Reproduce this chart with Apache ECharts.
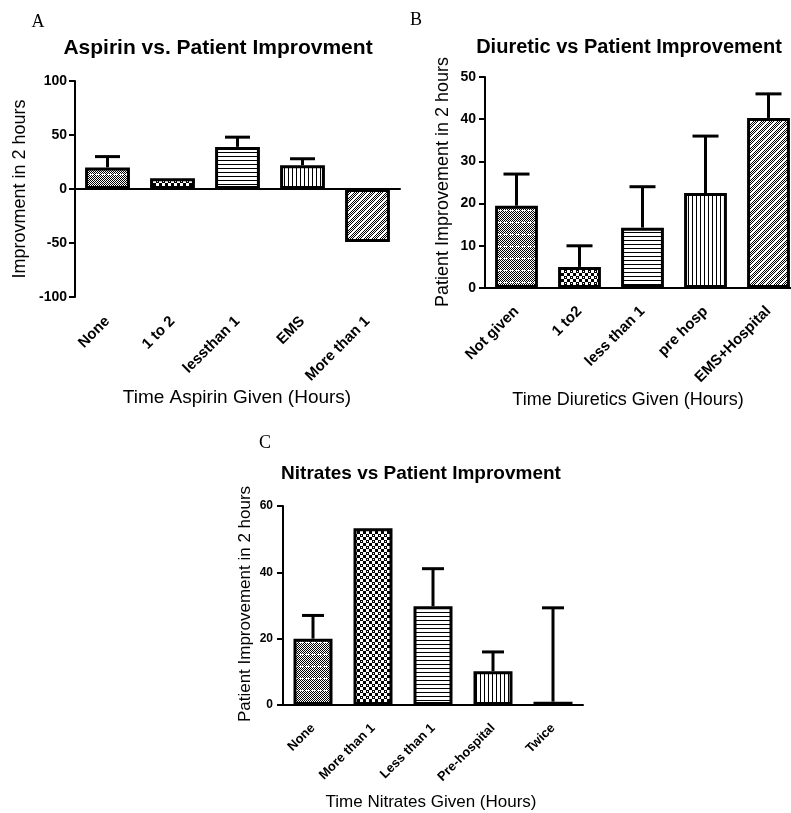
<!DOCTYPE html>
<html>
<head>
<meta charset="utf-8">
<script src="https://cdn.jsdelivr.net/npm/echarts@6/dist/echarts.min.js"></script>
<style>
  html, body { margin: 0; padding: 0; background: #fff; overflow: hidden; }
  #frame { width: 791px; height: 813px; overflow: hidden; position: relative; }
  #chart { width: 812px; height: 813px; }
</style>
</head>
<body>
<div id="frame"><div id="chart"></div></div>
<script>
// ---- Panel A: aspirin ----
const aspirinCategories = ['None', '1 to 2', 'lessthan 1', 'EMS', 'More than 1'];
const aspirinValues = [20, 10, 39, 22, -49];
const aspirinErrors = [10, 0, 9, 6, 0];
const aspirinTicks = [-100, 100, 50];   // min, max, step

// ---- Panel B: diuretics ----
const diureticCategories = ['Not given', '1 to2', 'less than 1', 'pre hosp', 'EMS+Hospital'];
const diureticValues = [19.5, 5, 14.3, 22.5, 40.3];
const diureticErrors = [7.5, 5, 9.7, 13.5, 5.7];
const diureticTicks = [0, 50, 10];

// ---- Panel C: nitrates ----
const nitrateCategories = ['None', 'More than 1', 'Less than 1', 'Pre-hospital', 'Twice'];
const nitrateValues = [20, 53.3, 29.8, 10.2, 1];
const nitrateErrors = [7, 0, 11.3, 5.8, 28.3];
const nitrateTicks = [0, 60, 20];

// Fill patterns, one per bar position
const patternOrderA = ['dots', 'coarse', 'hlines', 'vlines', 'diag'];
const patternOrderB = ['dots', 'coarse', 'hlines', 'vlines', 'diag'];
const patternOrderC = ['dots', 'coarse', 'hlines', 'vlines', 'coarse'];

function makeTile(w, h, draw) {
  const c = document.createElement('canvas');
  c.width = w; c.height = h;
  const g = c.getContext('2d');
  g.fillStyle = '#fff';
  g.fillRect(0, 0, w, h);
  draw(g, w, h);
  return c;
}
function fineChecker(g, w, h) {
  g.fillStyle = '#000';
  for (let y = 0; y < h; y++)
    for (let x = 0; x < w; x++)
      if ((x + y) % 2 === 0) g.fillRect(x, y, 1, 1);
}
const tiles = {
  dots: makeTile(6, 12, (g, w, h) => {
    fineChecker(g, w, h);
    g.fillStyle = '#fff';
    g.fillRect(0, 6, 4, 1);
  }),
  coarse: makeTile(6, 6, (g) => {
    g.fillStyle = '#000';
    g.fillRect(0, 0, 3, 3);
    g.fillRect(3, 3, 3, 3);
    g.fillStyle = '#fff';
    g.fillRect(1, 1, 1, 1);
  }),
  hlines: makeTile(4, 4, (g) => {
    g.fillStyle = '#000';
    g.fillRect(0, 0, 4, 1);
  }),
  vlines: makeTile(4, 4, (g) => {
    g.fillStyle = '#000';
    g.fillRect(0, 0, 1, 4);
  }),
  diag: makeTile(8, 8, (g, w, h) => {
    fineChecker(g, w, h);
    g.fillStyle = '#fff';
    for (let i = 0; i < 8; i++) {
      g.fillRect(i, 7 - i, 1, 1);
      g.fillRect(i, (8 - i) % 8, 1, 1);
    }
  })
};
function patternFill(name) {
  return { image: tiles[name], repeat: 'repeat' };
}

const SANS = '"Liberation Sans", Arial, sans-serif';
const SERIF = '"Liberation Serif", "Times New Roman", serif';

function barSeries(axisIdx, values, patterns, width, zeroLine) {
  const s = {
    type: 'bar',
    xAxisIndex: axisIdx,
    yAxisIndex: axisIdx,
    barWidth: width,
    z: 3,
    data: values.map((v, i) => ({
      value: v,
      itemStyle: { color: patternFill(patterns[i]), borderColor: '#000', borderWidth: 3 }
    }))
  };
  if (zeroLine) {
    s.markLine = {
      silent: true,
      symbol: 'none',
      label: { show: false },
      lineStyle: { color: '#000', width: 2, type: 'solid' },
      data: [{ yAxis: 0 }]
    };
  }
  return s;
}

function errorSeries(axisIdx, values, errors, capWidth) {
  return {
    type: 'custom',
    xAxisIndex: axisIdx,
    yAxisIndex: axisIdx,
    z: 4,
    encode: { x: 0, y: [1, 2] },
    data: values.map((v, i) => [i, v, v >= 0 ? v + errors[i] : v - errors[i]]),
    renderItem(params, api) {
      const i = api.value(0);
      const lo = api.coord([i, api.value(1)]);
      const hi = api.coord([i, api.value(2)]);
      if (Math.abs(lo[1] - hi[1]) < 0.5) return { type: 'group', children: [] };
      const st = { stroke: '#000', lineWidth: 3 };
      return {
        type: 'group',
        children: [
          { type: 'line', shape: { x1: lo[0], y1: lo[1], x2: hi[0], y2: hi[1] }, style: st },
          { type: 'line', shape: { x1: hi[0] - capWidth / 2, y1: hi[1], x2: hi[0] + capWidth / 2, y2: hi[1] }, style: st }
        ]
      };
    }
  };
}

function xAxis(gridIdx, cats, labelSize, labelMargin) {
  return {
    type: 'category',
    gridIndex: gridIdx,
    data: cats,
    boundaryGap: true,
    axisLine: { lineStyle: { color: '#000', width: 2 } },
    axisTick: { alignWithLabel: true, length: 6, lineStyle: { color: '#000', width: 2 } },
    axisLabel: { rotate: 45, interval: 0, color: '#000', fontFamily: SANS, fontWeight: 'bold', fontSize: labelSize, margin: labelMargin },
    splitLine: { show: false }
  };
}

function yAxis(gridIdx, ticks, labelSize, labelMargin) {
  return {
    type: 'value',
    gridIndex: gridIdx,
    min: ticks[0],
    max: ticks[1],
    interval: ticks[2],
    axisLine: { show: true, lineStyle: { color: '#000', width: 2 } },
    axisTick: { show: true, length: 6, lineStyle: { color: '#000', width: 2 } },
    axisLabel: { color: '#000', fontFamily: SANS, fontWeight: 'bold', fontSize: labelSize, margin: labelMargin },
    splitLine: { show: false }
  };
}

function label(text, x, y, font, rotation) {
  return {
    type: 'text', x: x, y: y, rotation: rotation || 0, silent: true,
    style: { text: text, font: font, fill: '#000', textAlign: 'center', textVerticalAlign: 'middle' }
  };
}
const UP = Math.PI / 2;

const chart = echarts.init(document.getElementById('chart'), null, { renderer: 'canvas' });
chart.setOption({
  animation: false,
  backgroundColor: '#fff',
  grid: [
    { left: 75, top: 81, width: 325, height: 216 },
    { left: 485, top: 77, width: 315, height: 211 },
    { left: 283, top: 506, width: 300, height: 199 }
  ],
  xAxis: [
    xAxis(0, aspirinCategories, 15, 22),
    xAxis(1, diureticCategories, 15, 21),
    xAxis(2, nitrateCategories, 13, 21)
  ],
  yAxis: [
    yAxis(0, aspirinTicks, 14, 8),
    yAxis(1, diureticTicks, 14, 9),
    yAxis(2, nitrateTicks, 12, 10)
  ],
  series: [
    barSeries(0, aspirinValues, patternOrderA, '69%', true),
    errorSeries(0, aspirinValues, aspirinErrors, 25),
    barSeries(1, diureticValues, patternOrderB, '68%', false),
    errorSeries(1, diureticValues, diureticErrors, 26),
    barSeries(2, nitrateValues, patternOrderC, '65%', false),
    errorSeries(2, nitrateValues, nitrateErrors, 22)
  ],
  graphic: [
    label('A', 38, 22, 'normal 18px ' + SERIF),
    label('Aspirin vs. Patient Improvment', 218, 48, 'bold 21px ' + SANS),
    label('Improvment in 2 hours', 20, 189, 'normal 18px ' + SANS, UP),
    label('Time Aspirin Given (Hours)', 237, 398, 'normal 19px ' + SANS),

    label('B', 416, 20, 'normal 18px ' + SERIF),
    label('Diuretic vs Patient Improvement', 629, 47, 'bold 20px ' + SANS),
    label('Patient Improvement in 2 hours', 443, 182, 'normal 18px ' + SANS, UP),
    label('Time Diuretics Given (Hours)', 628, 400, 'normal 18px ' + SANS),

    label('C', 265, 443, 'normal 18px ' + SERIF),
    label('Nitrates vs Patient Improvment', 421, 474, 'bold 19px ' + SANS),
    label('Patient Improvement in 2 hours', 245, 604, 'normal 17px ' + SANS, UP),
    label('Time Nitrates Given (Hours)', 431, 802, 'normal 17px ' + SANS)
  ]
});
</script>
</body>
</html>
